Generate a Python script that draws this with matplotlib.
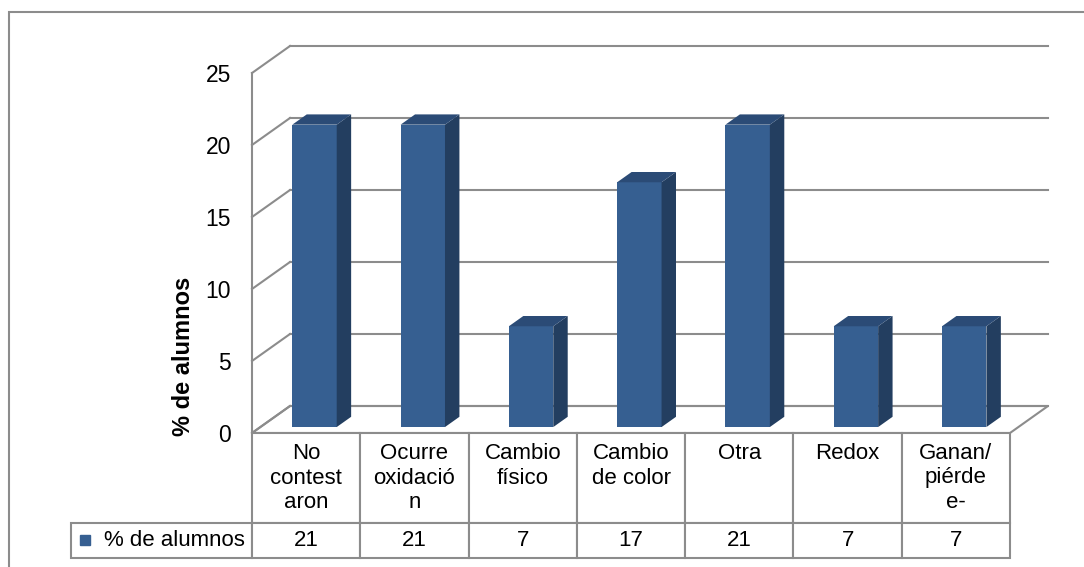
import numpy as np
import matplotlib; matplotlib.use('Agg')
import matplotlib.pyplot as plt
from matplotlib.patches import Polygon, Rectangle

plt.rcParams['font.family'] = ['Liberation Sans', 'DejaVu Sans']

# data
categories = ['No\ncontest\naron', 'Ocurre\noxidació\nn', 'Cambio\nfísico\n',
              'Cambio\nde color\n', 'Otra\n\n', 'Redox\n\n', 'Ganan/\npiérde\ne-']
values = [21, 21, 7, 17, 21, 7, 7]
series_name = '% de alumnos'
y_ticks = [0, 5, 10, 15, 20, 25]

C_FRONT = '#365F91'; C_SIDE = '#233E60'; C_TOP = '#2B4B76'
C_GRID = '#8C8C8C'

W, H = 1084, 567
fig = plt.figure(figsize=(W / 100, H / 100), dpi=100)
fig.patch.set_facecolor('white')

# chart area border (runs off the right and bottom edges)
fig.patches.append(Rectangle((9 / W, -0.1), 1.2, 1.1 - 12 / H, transform=fig.transFigure,
                             fill=False, edgecolor=C_GRID, lw=1.5))

# front plane of the plot: x 252..1010 px, y 433..73 px
AX_W, AX_H = 758, 360
ax = fig.add_axes([252 / W, (H - 433) / H, AX_W / W, AX_H / H])
n = len(values)
ax.set_xlim(0, n); ax.set_ylim(0, 25)
ax.set_frame_on(False)
ax.set_xticks([])
ax.set_yticks(y_ticks)
ax.set_yticklabels([str(t) for t in y_ticks], fontsize=16.5)
ax.tick_params(axis='y', length=0, pad=15)

# oblique depth vector in data units (38 px right, 27 px up)
DX = 38 / (AX_W / n)
DY = 27 / (AX_H / 25)

# floor
ax.add_patch(Polygon([(0, 0), (n, 0), (n + DX, DY), (DX, DY)], closed=True,
                     facecolor='white', edgecolor=C_GRID, lw=1.5, zorder=1, clip_on=False))
# back wall gridlines + side wall diagonals
for t in y_ticks:
    ax.plot([DX, n + DX], [t + DY, t + DY], color=C_GRID, lw=1.5, zorder=1, clip_on=False)
    ax.plot([0, DX], [t, t + DY], color=C_GRID, lw=1.5, zorder=1, clip_on=False)
ax.plot([0, 0], [0, 25], color=C_GRID, lw=1.5, zorder=1, clip_on=False)

# 3D columns
BAR_W = 0.41
D0, D1 = 0.22, 0.60
for i, v in enumerate(values):
    xc = i + 0.5
    x0 = xc - BAR_W / 2 + D0 * DX
    x1 = xc + BAR_W / 2 + D0 * DX
    y0 = D0 * DY
    ddx = (D1 - D0) * DX; ddy = (D1 - D0) * DY
    ax.bar(x0, v, width=BAR_W, bottom=y0, align='edge', color=C_FRONT,
           edgecolor='none', zorder=3, clip_on=False)
    ax.add_patch(Polygon([(x1, y0), (x1 + ddx, y0 + ddy), (x1 + ddx, y0 + v + ddy), (x1, y0 + v)],
                         closed=True, facecolor=C_SIDE, edgecolor='none', zorder=3, clip_on=False))
    ax.add_patch(Polygon([(x0, y0 + v), (x1, y0 + v), (x1 + ddx, y0 + v + ddy), (x0 + ddx, y0 + v + ddy)],
                         closed=True, facecolor=C_TOP, edgecolor='none', zorder=3, clip_on=False))

# data table under the plot: category columns line up with the axes,
# legend column hangs to the left
tb = ax.table(cellText=[[str(v) for v in values]], colLabels=categories,
              cellLoc='center', loc='bottom')
lab = tb.add_cell(1, -1, width=181 / AX_W, height=35 / AX_H,
                  text=series_name, loc='right')
lab.PAD = 0.04
tb.auto_set_font_size(False)
tb.set_fontsize(16)
for (r, c), cell in tb.get_celld().items():
    cell.set_edgecolor(C_GRID)
    cell.set_linewidth(1.5)
    cell.set_height((90 if r == 0 else 35) / AX_H)
    cell.set_width((181 if c == -1 else AX_W / n) / AX_W)
tb.set_zorder(2)

# legend key in the table
ax.plot([(84.5 - 252) / AX_W], [-(539.5 - 433) / AX_H], marker='s', ms=7.5,
        color=C_FRONT, transform=ax.transAxes, clip_on=False)

fig.text(183 / W, 1 - 356 / H, '% de alumnos', rotation=90, fontsize=17,
         fontweight='bold', ha='center', va='center')

fig.savefig('out.png', dpi=100, facecolor='white')
